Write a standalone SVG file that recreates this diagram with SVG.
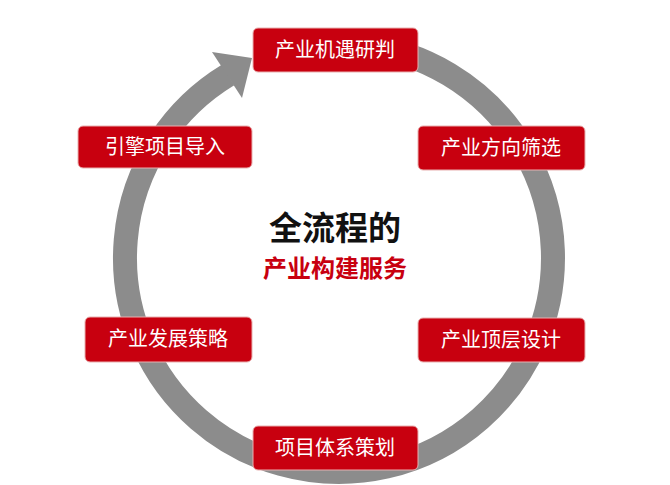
<svg xmlns="http://www.w3.org/2000/svg" width="670" height="485" viewBox="0 0 670 485">
<style>
.b{fill:#c8000f;stroke:#e8b0b0;stroke-width:1}
.t{font-family:"Noto Sans CJK SC",sans-serif;font-size:20px;fill:#fff;text-anchor:middle}
</style>
<rect width="670" height="485" fill="#fff"/>
<g id="ring">
<path d="M 228 75 A 214 214 0 1 0 360 45" fill="none" stroke="#8c8c8c" stroke-width="24"/>
<polygon points="212,52 252,58 242,98" fill="#8c8c8c"/>
</g>
<g id="n1"><rect class="b" x="253" y="28" width="165" height="44" rx="5"/><text class="t" x="335" y="57">产业机遇研判</text></g>
<g id="n2"><rect class="b" x="418" y="126" width="167" height="44" rx="5"/><text class="t" x="501" y="155">产业方向筛选</text></g>
<g id="n3"><rect class="b" x="418" y="318" width="167" height="44" rx="5"/><text class="t" x="501" y="347">产业顶层设计</text></g>
<g id="n4"><rect class="b" x="253" y="426" width="165" height="44" rx="5"/><text class="t" x="335" y="455">项目体系策划</text></g>
<g id="n5"><rect class="b" x="85" y="317" width="167" height="45" rx="5"/><text class="t" x="168" y="346">产业发展策略</text></g>
<g id="n6"><rect class="b" x="78" y="126" width="174" height="42" rx="5"/><text class="t" x="165" y="154">引擎项目导入</text></g>
<g id="center">
<text x="335" y="240" font-family="Noto Sans CJK SC,sans-serif" font-size="33" font-weight="bold" fill="#111" text-anchor="middle">全流程的</text>
<text x="335" y="277" font-family="Noto Sans CJK SC,sans-serif" font-size="24" font-weight="bold" fill="#c8000f" text-anchor="middle">产业构建服务</text>
</g>
</svg>
